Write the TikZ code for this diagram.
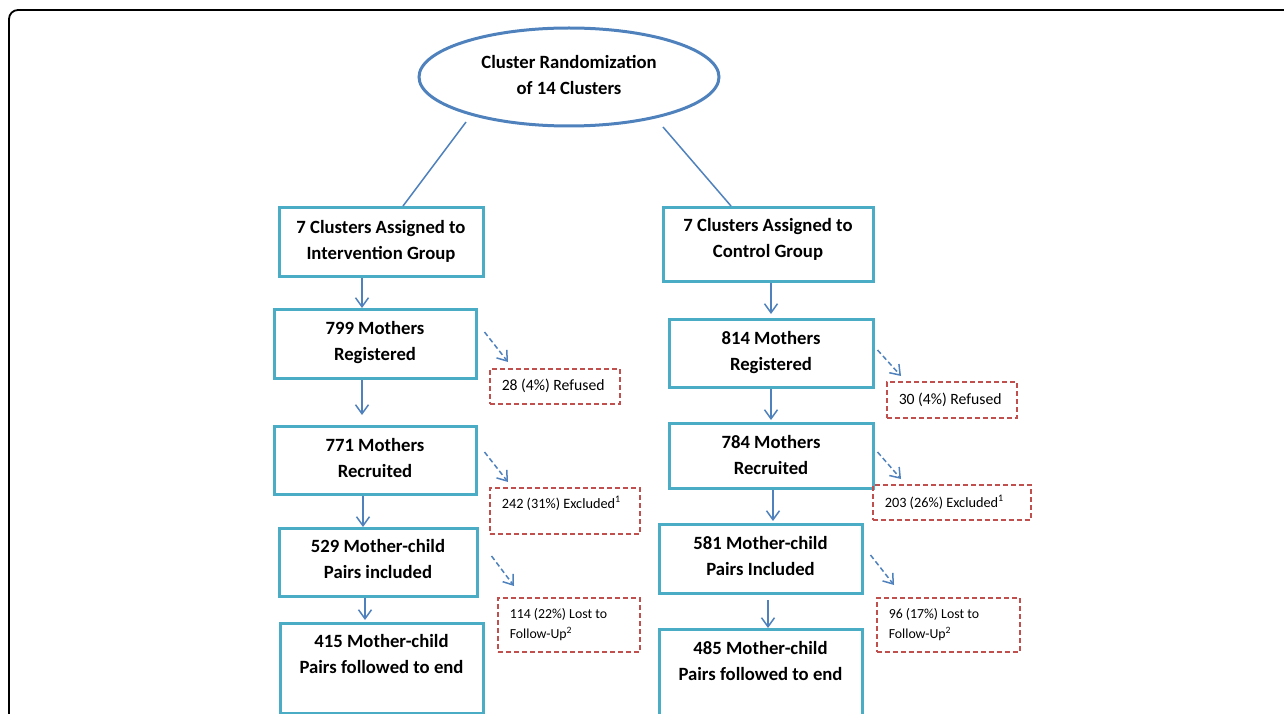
\documentclass[tikz,border=0pt]{standalone}
\usepackage{fontspec}
\setmainfont{Carlito}
\usetikzlibrary{arrows.meta,calc,positioning,shapes.geometric}

\definecolor{ovalblue}{HTML}{4F81BD}
\definecolor{stageteal}{HTML}{4BACC6}
\definecolor{lossred}{HTML}{C0504D}

\tikzset{
	stage/.style={draw=stageteal,line width=3pt,anchor=north,align=center,inner sep=0pt,text depth=6pt,
		font=\bfseries\fontsize{18.7}{26}\selectfont},
	loss/.style={draw=lossred,line width=1.5pt,dash pattern=on 5pt off 3pt,anchor=north west,
		align=flush left,inner xsep=12pt,inner ysep=0pt},
	flow/.style={draw=ovalblue,line width=1.5pt,-{Straight Barb[length=9pt,width=13pt]}},
	drop/.style={flow,dash pattern=on 5pt off 3pt},
}

\begin{document}
\begin{tikzpicture}[x=1pt,y=-1pt]
		\useasboundingbox (0,0) rectangle (1284,714);
		\draw[line width=1.8pt,rounded corners=9pt] (1300,10) -- (9,10) -- (9,730);
		%
		\node[ellipse,draw=ovalblue,line width=3pt,minimum width=300pt,minimum height=98pt,inner sep=0pt,
			align=center,text depth=5pt,font=\bfseries\fontsize{18.7}{26}\selectfont] at (569,77) (rand)
			{Cluster Randomization\\of 14 Clusters};
		%
		\node[stage,minimum width=204pt,minimum height=69pt,text depth=5pt] at (381,206) (int) {7 Clusters Assigned to\\Intervention Group};
		\node[stage,minimum width=202pt,minimum height=69pt,text depth=7pt] at (375,308) (reg1) {799 Mothers\\Registered};
		\node[stage,minimum width=202pt,minimum height=68pt,text depth=5pt] at (375,425) (rec1) {771 Mothers\\Recruited};
		\node[stage,minimum width=198pt,minimum height=68pt,text depth=7pt] at (378,527) (inc1) {529 Mother-child\\Pairs included};
		\node[stage,minimum width=203pt,minimum height=90pt,text depth=4pt] at (381.5,622) (end1) {415 Mother-child\\Pairs followed to end\\\mbox{}};
		%
		\node[stage,minimum width=210pt,minimum height=74pt,text depth=13pt] at (768,206) (ctl) {7 Clusters Assigned to\\Control Group};
		\node[stage,minimum width=204pt,minimum height=68pt,text depth=5pt] at (771,318) (reg2) {814 Mothers\\Registered};
		\node[stage,minimum width=204pt,minimum height=65pt,text depth=3pt] at (771,422) (rec2) {784 Mothers\\Recruited};
		\node[stage,minimum width=203pt,minimum height=69pt,text depth=7pt] at (760.5,523) (inc2) {581 Mother-child\\Pairs Included};
		\node[stage,minimum width=203pt,minimum height=90pt,text depth=2pt] at (760.5,628) (end2) {485 Mother-child\\Pairs followed to end\\\mbox{}};
		%
		\node[loss,minimum height=35pt,text width=106pt,font=\fontsize{15.7}{20}\selectfont] at (489,368) (ref1) {28 (4\%) Refused};
		\node[loss,minimum height=46pt,text width=126pt,text depth=17pt,font=\fontsize{14.3}{20}\selectfont] at (489,487) (exc1) {242 (31\%) Excluded\textsuperscript{1}};
		\node[loss,minimum height=54pt,text width=118pt,font=\fontsize{13.8}{20}\selectfont] at (497,597) (lost1) {114 (22\%) Lost to\\Follow-Up\textsuperscript{2}};
		\node[loss,minimum height=36pt,text width=106pt,font=\fontsize{15.7}{20}\selectfont] at (886,381) (ref2) {30 (4\%) Refused};
		\node[loss,minimum height=35pt,text width=134pt,font=\fontsize{14.3}{20}\selectfont] at (872,484) (exc2) {203 (26\%) Excluded\textsuperscript{1}};
		\node[loss,minimum height=54pt,text width=119pt,font=\fontsize{13.8}{20}\selectfont] at (876,597) (lost2) {96 (17\%) Lost to\\Follow-Up\textsuperscript{2}};
		%
		\draw[ovalblue,line width=1.5pt] ([shift={(-103,45)}]rand.center) -- ([shift={(22,0)}]int.north);
		\draw[ovalblue,line width=1.5pt] ([shift={(94,50)}]rand.center) -- ([shift={(-37,0)}]ctl.north);
		%
		\draw[flow] ([shift={(-19,0)}]int.south) -- ([shift={(-13,0)}]reg1.north);
		\draw[flow] ([shift={(-13,0)}]reg1.south) -- ([shift={(-13,-10)}]rec1.north);
		\draw[flow] ([shift={(-12,0)}]rec1.south) -- ([shift={(-15,0)}]inc1.north);
		\draw[flow] ([shift={(-13,0)}]inc1.south) -- ([shift={(-16.5,-2)}]end1.north);
		\draw[flow] ([shift={(3,0)}]ctl.south) -- ([shift={(0,-4)}]reg2.north);
		\draw[flow] (reg2.south) -- ([shift={(0,-2)}]rec2.north);
		\draw[flow] ([shift={(2,0)}]rec2.south) -- ([shift={(12.5,-2)}]inc2.north);
		\draw[flow] ([shift={(7.5,5)}]inc2.south) -- (end2.north -| {$(inc2.south)+(7.5,0)$});
		%
		\draw[drop] ([shift={(7,24)}]reg1.north east) -- ([shift={(19,-6)}]ref1.north west);
		\draw[drop] ([shift={(7,27)}]rec1.north east) -- ([shift={(19,-5)}]exc1.north west);
		\draw[drop] ([shift={(13,29)}]inc1.north east) -- ([shift={(17,-11)}]lost1.north west);
		\draw[drop] ([shift={(3,32)}]reg2.north east) -- ([shift={(15,-5)}]ref2.north west);
		\draw[drop] ([shift={(3,30)}]rec2.north east) -- ([shift={(29,-5)}]exc2.north west);
		\draw[drop] ([shift={(7,32)}]inc2.north east) -- ([shift={(18,-12)}]lost2.north west);
\end{tikzpicture}
\end{document}
